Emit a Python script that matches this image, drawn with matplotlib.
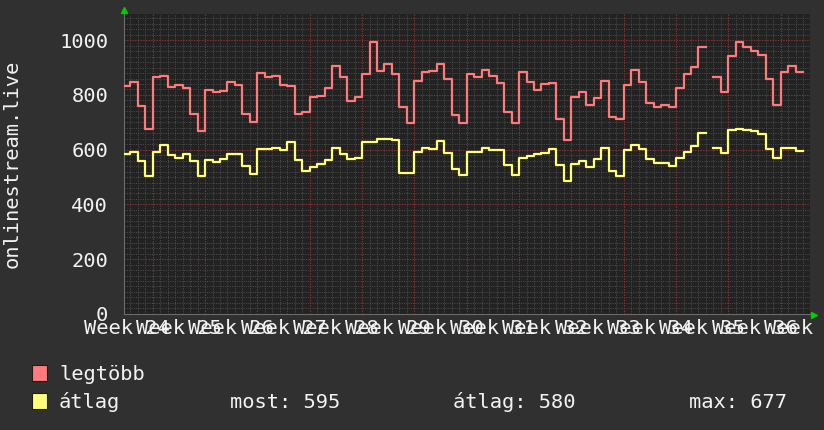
import numpy as np
import matplotlib.pyplot as plt
from matplotlib.patches import Rectangle

nan = np.nan

# daily values, first value belongs to day 3 counted from the start of Week 24
first_day = 3
legtobb = [834, 848, 761, 676, 864, 868, 828, 838, 825, 731, 670, 819, 812, 816, 848, 836, 731, 703,
           879, 864, 868, 836, 832, 731,
           737, 794, 798, 824, 907, 867, 779, 792, 876, 994, 888, 913, 876, 755, 698, 852, 885, 888,
           913, 858, 728, 698,
           876, 864, 892, 870, 844, 739, 697, 885, 848, 819, 840, 844, 713, 634, 794, 812, 765, 788,
           852, 721, 712, 836, 891, 848,
           772, 757, 763, 757, 824, 875, 903, 974, nan, 864, 811, 941, 992, 977, 960, 947, 857, 765,
           885, 905, 885]
atlag = [583, 592, 558, 503, 592, 616, 579, 571, 583, 558, 503, 561, 555, 565, 583, 583, 539, 510,
         601, 601, 605, 600, 628, 564,
         521, 537, 547, 564, 607, 583, 567, 571, 628, 628, 639, 639, 634, 515, 515, 592, 606, 604,
         630, 588, 531, 509,
         592, 592, 607, 600, 598, 545, 507, 571, 577, 583, 589, 601, 545, 485, 549, 558, 538, 566,
         606, 522, 504, 599, 616, 604,
         565, 552, 552, 540, 571, 592, 613, 660, nan, 606, 587, 673, 677, 673, 667, 656, 601, 570,
         606, 607, 595]
weeks = list(range(24, 38))
week_labels = ["Week %d" % w for w in weeks]
y_ticks = [0, 200, 400, 600, 800, 1000]

legend_rows = [("legtöbb", "#ff7b7b"), ("átlag", "#ffff7a")]
stats = ["most: 595", "átlag: 580", "max: 677"]

BG = "#303030"
PLOT_BG = "#222222"
FG = "#f2f2f2"
FONT = "DejaVu Sans Mono"
FS = 14.7

plt.rcParams["font.family"] = FONT

fig = plt.figure(figsize=(8.24, 4.30), dpi=100, facecolor=BG)
ax = fig.add_axes([124 / 824, 1 - 313.8 / 430, 686 / 824, 299.8 / 430])
ax.set_facecolor(PLOT_BG)

x_left, x_right = 3.16, 94.92
y_top = 1096
ax.set_xlim(x_left, x_right)
ax.set_ylim(0, y_top)

# grid: minor = 1 day / 20 units, major = 1 week / 200 units
days = np.arange(np.ceil(x_left), x_right)
minor_days = [d for d in days if d % 7 != 0]
major_days = [d for d in days if d % 7 == 0]
ax.vlines(minor_days, 0, y_top, colors="#4a4a4a", linewidth=0.75,
          linestyles=(0, (1, 1.2)), zorder=1)
minor_y = [v for v in range(20, y_top, 20) if v % 200 != 0]
ax.hlines(minor_y, x_left, x_right, colors="#4a4a4a", linewidth=0.75,
          linestyles=(0, (1, 1.2)), zorder=1)
ax.vlines(major_days, 0, y_top, colors="#8a3434", linewidth=0.8,
          linestyles=(0, (1.2, 1.2)), zorder=1.5)
ax.hlines(y_ticks[1:], x_left, x_right, colors="#8a3434", linewidth=0.8,
          linestyles=(0, (1.2, 1.2)), zorder=1.5)

# step lines
x = np.arange(first_day, first_day + len(atlag) + 1)
for vals, (name, col) in zip([legtobb, atlag], legend_rows):
    y = list(vals) + [vals[-1]]
    ax.step(x, y, where="post", color=col, linewidth=1.6, zorder=3)

for s in ["top", "right"]:
    ax.spines[s].set_visible(False)
for s in ["bottom", "left"]:
    ax.spines[s].set_color("#6a6a6a")
    ax.spines[s].set_linewidth(0.8)

ax.set_yticks(y_ticks)
ax.set_yticklabels([str(v) for v in y_ticks])
ax.set_xticks([7 * i + 3.5 for i in range(len(weeks))])
ax.set_xticklabels(week_labels)
ax.tick_params(axis="y", length=0, pad=11.5, labelsize=FS, labelcolor=FG)
ax.tick_params(axis="x", length=0, pad=4, labelsize=FS, labelcolor=FG)

# green arrows at axis ends
ax.plot([0], [1.012], marker="^", color="#00cc00", markersize=4.5,
        transform=ax.transAxes, clip_on=False, zorder=5)
ax.plot([1.006], [-0.004], marker=">", color="#00cc00", markersize=4.5,
        transform=ax.transAxes, clip_on=False, zorder=5)

fig.text(12 / 824, 1 - 164 / 430, "onlinestream.live", rotation=90, ha="center",
         va="center", color=FG, fontsize=FS)

# legend
row_y = [380, 408.5]
for (name, col), yb in zip(legend_rows, row_y):
    fig.patches.append(Rectangle((32 / 824, 1 - (yb + 0.5) / 430), 15 / 824, 16 / 430,
                                 transform=fig.transFigure, facecolor=col,
                                 edgecolor="#1e1e1e", linewidth=0.8))
    fig.text(59 / 824, 1 - yb / 430, name, color=FG, fontsize=FS, va="baseline")
for txt, xp in zip(stats, [230, 453, 689]):
    fig.text(xp / 824, 1 - row_y[1] / 430, txt, color=FG, fontsize=FS, va="baseline")

fig.savefig("out.png", dpi=100, facecolor=BG)
